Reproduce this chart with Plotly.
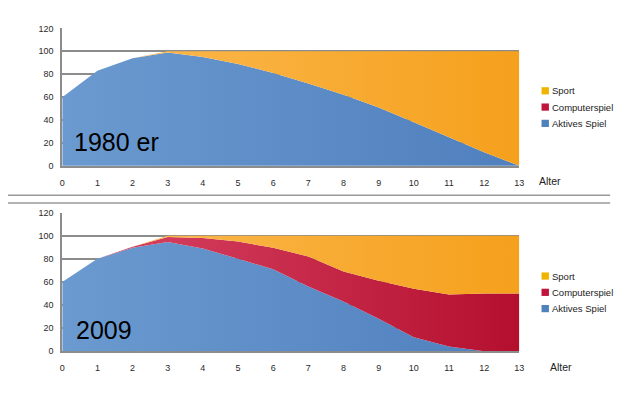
import plotly.graph_objects as go

ages = list(range(14))
age_labels = [str(a) for a in ages]
y_ticks = [0, 20, 40, 60, 80, 100, 120]

series_names = ["Aktives Spiel", "Computerspiel", "Sport"]

# 1980er
aktiv_1980 = [60, 83, 94, 99, 95, 89, 81, 72, 62, 51, 38, 25, 12, 0]
computer_1980 = [0, 0, 0, 0, 0, 0, 0, 0, 0, 0, 0, 0, 0, 0]
sport_1980 = [0, 0, 0, 1, 5, 11, 19, 28, 38, 49, 62, 75, 88, 100]

# 2009
aktiv_2009 = [60, 80, 89.5, 94.5, 89, 80, 71, 56, 43, 28, 12, 4, 0, 0]
computer_2009 = [0, 0, 1, 4.5, 9, 15, 18.5, 26, 26, 33, 42, 45, 50, 50]
sport_2009 = [0, 0, 0, 1, 2, 5, 10.5, 18, 31, 39, 46, 51, 50, 50]

colors = {
    "Aktives Spiel": ("#6b9ad0", "#4f7fbd"),
    "Computerspiel": ("#db4868", "#b40e2d"),
    "Sport": ("#fcbc55", "#f5a01c"),
}
legend_colors = {"Sport": "#f0b400", "Computerspiel": "#c0143c", "Aktives Spiel": "#4f81bd"}

panels = [
    ("1980 er", [aktiv_1980, computer_1980, sport_1980], "x", "y", [0.5875, 0.94]),
    ("2009", [aktiv_2009, computer_2009, sport_2009], "x2", "y2", [0.1125, 0.4675]),
]

fig = go.Figure()
for pi, (label, data, xa, ya, dom) in enumerate(panels):
    for name, vals in zip(series_names, data):
        c0, c1 = colors[name]
        fig.add_trace(go.Scatter(
            x=ages, y=vals, name=name, xaxis=xa, yaxis=ya,
            stackgroup="s%d" % pi, mode="none",
            fillgradient=dict(type="horizontal", start=0, stop=13,
                              colorscale=[[0, c0], [1, c1]]),
            showlegend=False, hoverinfo="skip",
        ))

ax_common = dict(
    tickfont=dict(family="Liberation Sans, Arial", size=9, color="#2a2a2a"),
)
xdom = [60 / 625, 523 / 625]
fig.update_layout(
    width=625, height=400, margin=dict(l=0, r=0, t=0, b=0),
    paper_bgcolor="white", plot_bgcolor="white",
    xaxis=dict(domain=xdom, anchor="y", range=[0, 13], tickvals=ages, ticktext=age_labels,
               showgrid=False, zeroline=False, showline=True, linecolor="#8c8c8c", linewidth=2,
               ticks="outside", ticklen=7, tickcolor="rgba(0,0,0,0)", **ax_common),
    yaxis=dict(domain=panels[0][4], anchor="x", range=[0, 120], tickvals=y_ticks,
               showgrid=True, gridcolor="#8c8c8c", gridwidth=2, zeroline=False,
               showline=True, linecolor="#8c8c8c", linewidth=2,
               ticks="outside", ticklen=5, tickcolor="rgba(0,0,0,0)", **ax_common),
    xaxis2=dict(domain=xdom, anchor="y2", range=[0, 13], tickvals=ages, ticktext=age_labels,
                showgrid=False, zeroline=False, showline=True, linecolor="#8c8c8c", linewidth=2,
                ticks="outside", ticklen=7, tickcolor="rgba(0,0,0,0)", **ax_common),
    yaxis2=dict(domain=panels[1][4], anchor="x2", range=[0, 120], tickvals=y_ticks,
                showgrid=True, gridcolor="#8c8c8c", gridwidth=2, zeroline=False,
                showline=True, linecolor="#8c8c8c", linewidth=2,
                ticks="outside", ticklen=5, tickcolor="rgba(0,0,0,0)", **ax_common),
)

# panel labels
fig.add_annotation(x=70 / 625, y=1 - 140 / 400, xref="paper", yref="paper", text="1980 er",
                   showarrow=False, xanchor="left", yanchor="middle",
                   font=dict(family="Liberation Sans, Arial", size=25, color="black"))
fig.add_annotation(x=72 / 625, y=1 - 333 / 400, xref="paper", yref="paper", text="2009",
                   showarrow=False, xanchor="left", yanchor="middle",
                   font=dict(family="Liberation Sans, Arial", size=25, color="black"))
# axis titles
fig.add_annotation(x=541 / 625, y=1 - 181 / 400, xref="paper", yref="paper", text="Alter",
                   showarrow=False, xanchor="left", yanchor="middle",
                   font=dict(family="Liberation Sans, Arial", size=10.5, color="#222222"))
fig.add_annotation(x=552 / 625, y=1 - 371 / 400, xref="paper", yref="paper", text="Alter",
                   showarrow=False, xanchor="left", yanchor="middle",
                   font=dict(family="Liberation Sans, Arial", size=10.5, color="#222222"))

# legends (drawn per panel)
legend_order = ["Sport", "Computerspiel", "Aktives Spiel"]
for ytop in (88, 278):
    for i, name in enumerate(legend_order):
        yc = ytop + i * 16.7
        fig.add_shape(type="rect", xref="paper", yref="paper",
                      x0=545.5 / 625, x1=553 / 625,
                      y0=1 - (yc + 3.7) / 400, y1=1 - (yc - 3.7) / 400,
                      fillcolor=legend_colors[name], line=dict(width=0))
        fig.add_annotation(x=554 / 625, y=1 - yc / 400, xref="paper", yref="paper",
                           text=name, showarrow=False, xanchor="left", yanchor="middle",
                           font=dict(family="Liberation Sans, Arial", size=9.5, color="#222222"))

# separator lines
for yy in (195, 203):
    fig.add_shape(type="line", xref="paper", yref="paper",
                  x0=5 / 625, x1=615 / 625, y0=1 - yy / 400, y1=1 - yy / 400,
                  line=dict(color="#999999", width=1.5))

fig.write_html("out.html")
